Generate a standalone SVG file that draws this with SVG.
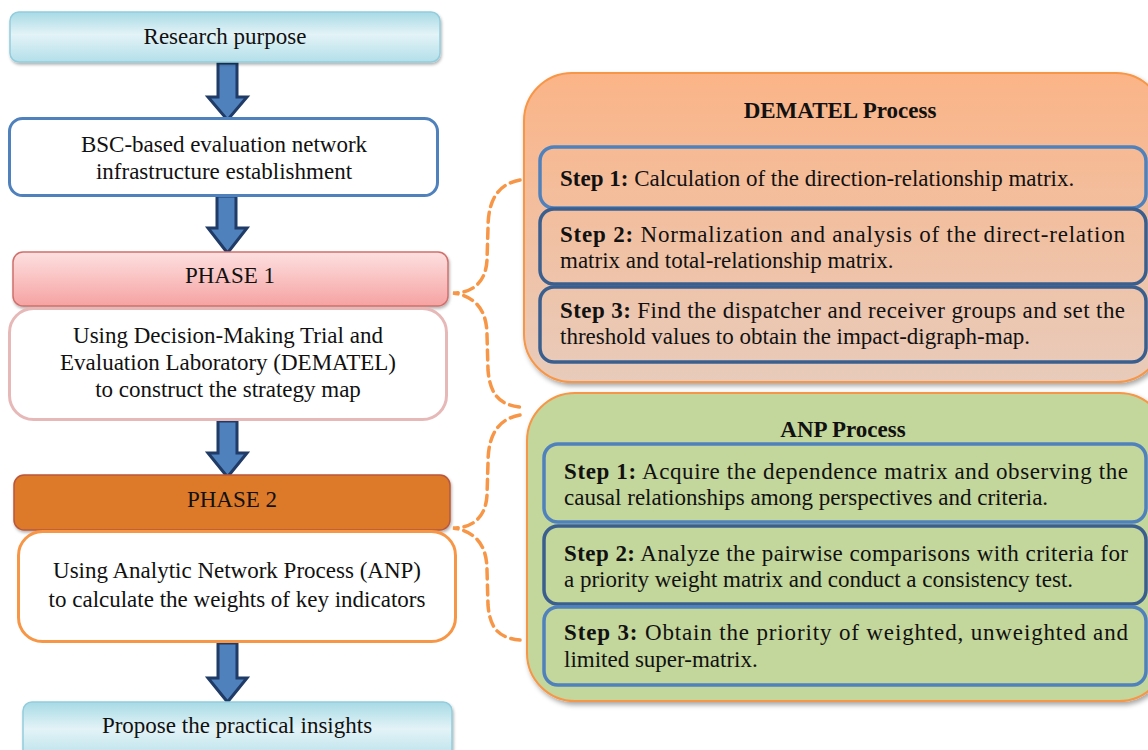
<svg xmlns="http://www.w3.org/2000/svg" width="1148" height="750" viewBox="0 0 1148 750">
<defs>
<linearGradient id="gCyan" x1="0" y1="0" x2="0" y2="1">
<stop offset="0" stop-color="#a7dae5"/><stop offset="0.45" stop-color="#e3f3f7"/><stop offset="1" stop-color="#b3dfe9"/>
</linearGradient>
<linearGradient id="gPink" x1="0" y1="0" x2="0" y2="1">
<stop offset="0" stop-color="#fde0e0"/><stop offset="1" stop-color="#f5a3a2"/>
</linearGradient>
<linearGradient id="gDem" x1="0" y1="0" x2="0" y2="1">
<stop offset="0" stop-color="#fbb487"/><stop offset="1" stop-color="#e8cbbb"/>
</linearGradient>
<filter id="sh" x="-5%" y="-5%" width="110%" height="115%">
<feDropShadow dx="2" dy="3" stdDeviation="2.5" flood-color="#000" flood-opacity="0.35"/>
</filter>
<filter id="shs" x="-5%" y="-10%" width="110%" height="130%">
<feDropShadow dx="1" dy="2" stdDeviation="1.5" flood-color="#000" flood-opacity="0.3"/>
</filter>
</defs>
<style>
text{font-family:"Liberation Serif","Times New Roman",serif;font-size:23px;fill:#111;}
.c{text-anchor:middle;}
.b{font-weight:bold;}
.arrow{fill:#4f81bd;stroke:#1f3b66;stroke-width:3;stroke-linejoin:miter;}
.brace{fill:none;stroke:#f79646;stroke-width:3.5;stroke-dasharray:10 6;stroke-linecap:round;}
.stepA{fill:none;stroke:#4f81bd;stroke-width:3.5;}
.stepB{fill:none;stroke:#3a5f8e;stroke-width:3.5;}
</style>

<g id="connectors">
<polygon class="arrow" points="218,63 237,63 237,97 247,97 227.5,120 208,97 218,97"/>
<polygon class="arrow" points="217,196 236,196 236,228 247,228 227.5,253 208,228 217,228"/>
<polygon class="arrow" points="218,421 237,421 237,453 247,453 227.5,477 208,453 218,453"/>
<polygon class="arrow" points="218,643 237,643 237,678 247,678 227.5,702 208,678 218,678"/>
<path class="brace" d="M520,180 C498,184 488,200 488,228 L487,260 C486,280 475,293 453,293 C475,296 487,310 487,335 L488,370 C490,395 500,405 520,407"/>
<path class="brace" d="M520,415 C498,419 488,435 488,463 L487,495 C486,515 475,528 453,528 C475,531 487,545 487,570 L488,605 C490,630 500,638 520,640"/>
</g>

<g id="research-purpose">
<rect x="10" y="12" width="430" height="50" rx="9" fill="url(#gCyan)" stroke="#93cddd" stroke-width="1.5" filter="url(#shs)"/>
<text class="c" x="225" y="44">Research purpose</text>
</g>

<g id="bsc">
<rect x="9.5" y="118.5" width="428" height="77" rx="13" fill="#fff" stroke="#4f81bd" stroke-width="3"/>
<text class="c" x="224" y="152">BSC-based evaluation network</text>
<text class="c" x="224" y="179">infrastructure establishment</text>
</g>

<g id="phase1">
<rect x="13" y="252" width="435" height="54" rx="10" fill="url(#gPink)" stroke="#d0706c" stroke-width="1.5" filter="url(#shs)"/>
<text class="c" x="230" y="283">PHASE 1</text>
</g>

<g id="dematel-desc">
<rect x="9.5" y="308.5" width="437" height="111" rx="24" fill="#fff" stroke="#e6b9b8" stroke-width="3"/>
<text class="c" x="228" y="343">Using Decision-Making Trial and</text>
<text class="c" x="228" y="370">Evaluation Laboratory (DEMATEL)</text>
<text class="c" x="228" y="397">to construct the strategy map</text>
</g>

<g id="phase2">
<rect x="14" y="475" width="436" height="55" rx="10" fill="#dd7a2c" stroke="#b9573a" stroke-width="1.5" filter="url(#shs)"/>
<text class="c" x="232" y="507">PHASE 2</text>
</g>

<g id="anp-desc">
<rect x="18.5" y="531.5" width="437" height="110" rx="24" fill="#fff" stroke="#f79646" stroke-width="3"/>
<text class="c" x="237" y="578">Using Analytic Network Process (ANP)</text>
<text class="c" x="237" y="607">to calculate the weights of key indicators</text>
</g>

<g id="propose">
<rect x="23" y="702" width="429" height="60" rx="9" fill="url(#gCyan)" stroke="#93cddd" stroke-width="1.5" filter="url(#shs)"/>
<text class="c" x="237" y="733">Propose the practical insights</text>
</g>

<g id="dematel-process">
<rect x="524" y="73" width="640" height="309" rx="48" fill="url(#gDem)" stroke="#f79646" stroke-width="2" filter="url(#sh)"/>
<text class="c b" x="840" y="118">DEMATEL Process</text>
<rect class="stepA" x="540" y="147" width="606" height="61" rx="14"/>
<text x="560" y="186"><tspan class="b">Step 1:</tspan> Calculation of the direction-relationship matrix.</text>
<rect class="stepB" x="540" y="209" width="606" height="75" rx="14"/>
<text x="560" y="242" textLength="565" lengthAdjust="spacing"><tspan class="b">Step 2:</tspan> Normalization and analysis of the direct-relation</text>
<text x="560" y="268">matrix and total-relationship matrix.</text>
<rect class="stepB" x="540" y="287" width="606" height="75" rx="14"/>
<text x="560" y="318" textLength="565" lengthAdjust="spacing"><tspan class="b">Step 3:</tspan> Find the dispatcher and receiver groups and set the</text>
<text x="560" y="344">threshold values to obtain the impact-digraph-map.</text>
</g>

<g id="anp-process">
<rect x="527" y="393" width="640" height="308" rx="48" fill="#c3d69b" stroke="#f79646" stroke-width="2" filter="url(#sh)"/>
<text class="c b" x="843" y="437">ANP Process</text>
<rect class="stepA" x="544" y="444" width="602" height="78" rx="14"/>
<text x="564" y="479" textLength="564" lengthAdjust="spacing"><tspan class="b">Step 1:</tspan> Acquire the dependence matrix and observing the</text>
<text x="564" y="505">causal relationships among perspectives and criteria.</text>
<rect class="stepB" x="544" y="526" width="602" height="78" rx="14"/>
<text x="564" y="561" textLength="564" lengthAdjust="spacing"><tspan class="b">Step 2:</tspan> Analyze the pairwise comparisons with criteria for</text>
<text x="564" y="587">a priority weight matrix and conduct a consistency test.</text>
<rect class="stepA" x="544" y="607" width="602" height="78" rx="14"/>
<text x="564" y="640" textLength="564" lengthAdjust="spacing"><tspan class="b">Step 3:</tspan> Obtain the priority of weighted, unweighted and</text>
<text x="564" y="667">limited super-matrix.</text>
</g>
</svg>
